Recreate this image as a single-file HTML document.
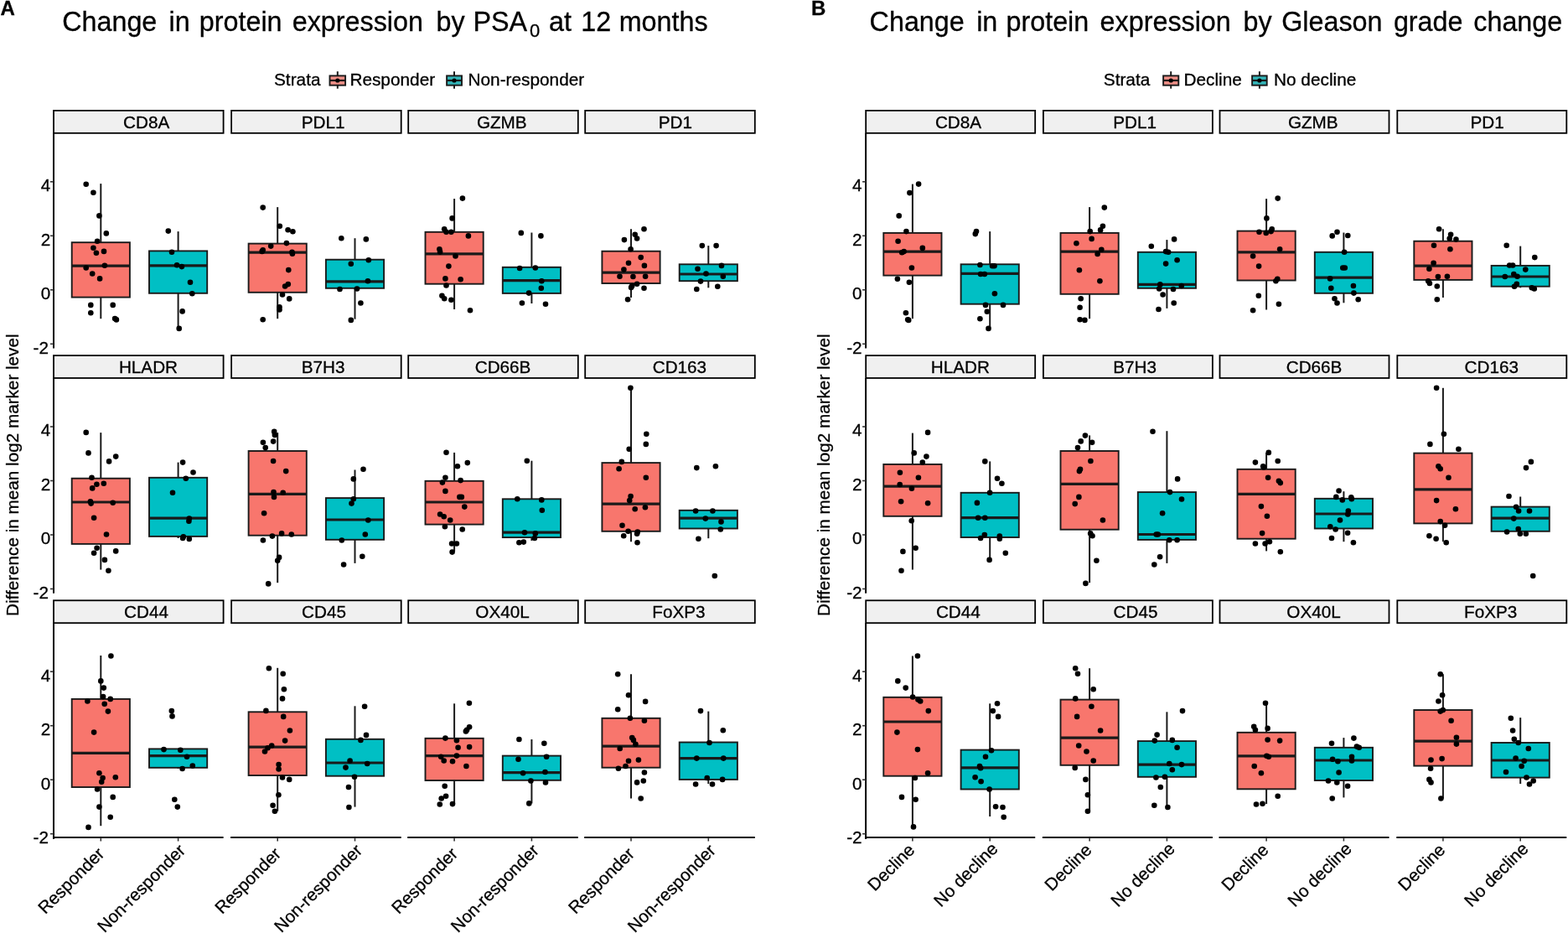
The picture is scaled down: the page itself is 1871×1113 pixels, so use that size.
<!DOCTYPE html><html><head><meta charset="utf-8"><title>Protein expression</title><style>html,body{margin:0;padding:0;background:#fff;overflow:hidden}svg{display:block}</style></head><body><svg width="1871" height="1113" viewBox="0 0 1871 1113">
<style>text{font-family:'Liberation Sans', Arial, Helvetica, sans-serif;fill:#000;stroke:#000;stroke-width:0.3px}.w{stroke:#1a1a1a;stroke-width:2}.b{stroke:#1a1a1a;stroke-width:1.9}.m{stroke:#1a1a1a;stroke-width:3.2}.ax{stroke:#000;stroke-width:2}.tk{stroke:#333;stroke-width:1.6}.st{fill:#F0F0F0;stroke:#000;stroke-width:1.8}.sl,.yt,.xt{font-size:20.7px}</style>
<rect width="1871" height="1113" fill="#fff"/>
<rect x="64.0" y="131.9" width="202.6" height="26.9" class="st"/>
<text x="147.0" y="152.7" class="sl">CD8A</text>
<line x1="120.3" y1="219.1" x2="120.3" y2="289.2" class="w"/>
<line x1="120.3" y1="354.5" x2="120.3" y2="380.2" class="w"/>
<rect x="85.7" y="289.2" width="69.2" height="65.4" fill="#F8766D" class="b"/>
<line x1="85.7" y1="317.2" x2="154.9" y2="317.2" class="m"/>
<line x1="212.6" y1="276.1" x2="212.6" y2="299.4" class="w"/>
<line x1="212.6" y1="349.9" x2="212.6" y2="392.4" class="w"/>
<rect x="178.0" y="299.4" width="69.2" height="50.4" fill="#00BFC4" class="b"/>
<line x1="178.0" y1="316.9" x2="247.2" y2="316.9" class="m"/>
<g fill="#000">
<circle cx="102.7" cy="219.8" r="3.3"/>
<circle cx="111.4" cy="229.8" r="3.3"/>
<circle cx="118.4" cy="257.4" r="3.3"/>
<circle cx="126.8" cy="278.4" r="3.3"/>
<circle cx="116.1" cy="287.7" r="3.3"/>
<circle cx="111.4" cy="295.7" r="3.3"/>
<circle cx="114.9" cy="301.8" r="3.3"/>
<circle cx="124.0" cy="299.9" r="3.3"/>
<circle cx="102.7" cy="319.5" r="3.3"/>
<circle cx="124.9" cy="316.7" r="3.3"/>
<circle cx="110.2" cy="326.5" r="3.3"/>
<circle cx="119.1" cy="332.4" r="3.3"/>
<circle cx="108.3" cy="363.9" r="3.3"/>
<circle cx="134.7" cy="363.9" r="3.3"/>
<circle cx="108.3" cy="373.2" r="3.3"/>
<circle cx="137.1" cy="380.0" r="3.3"/>
<circle cx="138.9" cy="381.4" r="3.3"/>
<circle cx="200.8" cy="275.6" r="3.3"/>
<circle cx="205.0" cy="300.8" r="3.3"/>
<circle cx="211.1" cy="316.2" r="3.3"/>
<circle cx="216.9" cy="318.1" r="3.3"/>
<circle cx="227.0" cy="336.8" r="3.3"/>
<circle cx="229.3" cy="350.3" r="3.3"/>
<circle cx="217.6" cy="371.4" r="3.3"/>
<circle cx="213.7" cy="391.9" r="3.3"/>
</g>
<rect x="276.1" y="131.9" width="202.6" height="26.9" class="st"/>
<text x="359.7" y="152.7" class="sl">PDL1</text>
<line x1="331.2" y1="247.1" x2="331.2" y2="290.6" class="w"/>
<line x1="331.2" y1="348.7" x2="331.2" y2="380.2" class="w"/>
<rect x="296.6" y="290.6" width="69.2" height="58.2" fill="#F8766D" class="b"/>
<line x1="296.6" y1="301.1" x2="365.8" y2="301.1" class="m"/>
<line x1="423.5" y1="284.2" x2="423.5" y2="309.7" class="w"/>
<line x1="423.5" y1="343.8" x2="423.5" y2="380.7" class="w"/>
<rect x="388.9" y="309.7" width="69.2" height="34.1" fill="#00BFC4" class="b"/>
<line x1="388.9" y1="335.9" x2="458.1" y2="335.9" class="m"/>
<g fill="#000">
<circle cx="313.7" cy="247.6" r="3.3"/>
<circle cx="333.8" cy="269.8" r="3.3"/>
<circle cx="343.6" cy="274.2" r="3.3"/>
<circle cx="349.4" cy="276.3" r="3.3"/>
<circle cx="341.9" cy="290.1" r="3.3"/>
<circle cx="323.2" cy="293.6" r="3.3"/>
<circle cx="313.7" cy="298.3" r="3.3"/>
<circle cx="312.7" cy="299.9" r="3.3"/>
<circle cx="348.5" cy="300.8" r="3.3"/>
<circle cx="348.9" cy="302.7" r="3.3"/>
<circle cx="344.3" cy="322.1" r="3.3"/>
<circle cx="340.1" cy="341.5" r="3.3"/>
<circle cx="343.8" cy="339.1" r="3.3"/>
<circle cx="337.0" cy="351.5" r="3.3"/>
<circle cx="345.2" cy="356.4" r="3.3"/>
<circle cx="333.5" cy="366.2" r="3.3"/>
<circle cx="333.5" cy="369.5" r="3.3"/>
<circle cx="313.7" cy="381.2" r="3.3"/>
<circle cx="407.3" cy="284.2" r="3.3"/>
<circle cx="436.8" cy="285.4" r="3.3"/>
<circle cx="439.8" cy="310.2" r="3.3"/>
<circle cx="418.8" cy="314.8" r="3.3"/>
<circle cx="438.9" cy="335.2" r="3.3"/>
<circle cx="405.5" cy="345.0" r="3.3"/>
<circle cx="426.0" cy="344.5" r="3.3"/>
<circle cx="430.4" cy="361.5" r="3.3"/>
<circle cx="418.8" cy="381.9" r="3.3"/>
</g>
<rect x="487.2" y="131.9" width="202.6" height="26.9" class="st"/>
<text x="568.9" y="152.7" class="sl">GZMB</text>
<line x1="542.1" y1="237.1" x2="542.1" y2="276.8" class="w"/>
<line x1="542.1" y1="338.7" x2="542.1" y2="369.0" class="w"/>
<rect x="507.5" y="276.8" width="69.2" height="61.9" fill="#F8766D" class="b"/>
<line x1="507.5" y1="302.9" x2="576.7" y2="302.9" class="m"/>
<line x1="634.4" y1="277.5" x2="634.4" y2="318.8" class="w"/>
<line x1="634.4" y1="349.9" x2="634.4" y2="362.0" class="w"/>
<rect x="599.8" y="318.8" width="69.2" height="31.1" fill="#00BFC4" class="b"/>
<line x1="599.8" y1="334.7" x2="669.0" y2="334.7" class="m"/>
<g fill="#000">
<circle cx="551.9" cy="236.6" r="3.3"/>
<circle cx="539.6" cy="260.4" r="3.3"/>
<circle cx="530.2" cy="273.3" r="3.3"/>
<circle cx="532.5" cy="276.8" r="3.3"/>
<circle cx="538.4" cy="276.8" r="3.3"/>
<circle cx="558.9" cy="281.4" r="3.3"/>
<circle cx="524.4" cy="297.3" r="3.3"/>
<circle cx="525.1" cy="300.6" r="3.3"/>
<circle cx="543.5" cy="305.5" r="3.3"/>
<circle cx="535.4" cy="317.6" r="3.3"/>
<circle cx="531.4" cy="332.4" r="3.3"/>
<circle cx="549.6" cy="333.3" r="3.3"/>
<circle cx="532.5" cy="340.5" r="3.3"/>
<circle cx="527.4" cy="352.7" r="3.3"/>
<circle cx="530.2" cy="356.2" r="3.3"/>
<circle cx="538.4" cy="357.8" r="3.3"/>
<circle cx="561.0" cy="370.2" r="3.3"/>
<circle cx="621.8" cy="277.9" r="3.3"/>
<circle cx="645.4" cy="281.4" r="3.3"/>
<circle cx="620.1" cy="320.0" r="3.3"/>
<circle cx="638.8" cy="319.5" r="3.3"/>
<circle cx="646.3" cy="335.2" r="3.3"/>
<circle cx="645.8" cy="343.8" r="3.3"/>
<circle cx="631.1" cy="349.6" r="3.3"/>
<circle cx="622.9" cy="361.5" r="3.3"/>
<circle cx="651.0" cy="362.7" r="3.3"/>
</g>
<rect x="698.2" y="131.9" width="202.6" height="26.9" class="st"/>
<text x="785.7" y="152.7" class="sl">PD1</text>
<line x1="753.0" y1="273.3" x2="753.0" y2="299.7" class="w"/>
<line x1="753.0" y1="338.0" x2="753.0" y2="355.0" class="w"/>
<rect x="718.4" y="299.7" width="69.2" height="38.3" fill="#F8766D" class="b"/>
<line x1="718.4" y1="325.1" x2="787.6" y2="325.1" class="m"/>
<line x1="845.3" y1="293.1" x2="845.3" y2="315.3" class="w"/>
<line x1="845.3" y1="335.2" x2="845.3" y2="343.3" class="w"/>
<rect x="810.7" y="315.3" width="69.2" height="19.9" fill="#00BFC4" class="b"/>
<line x1="810.7" y1="327.0" x2="879.9" y2="327.0" class="m"/>
<g fill="#000">
<circle cx="768.5" cy="273.3" r="3.3"/>
<circle cx="757.7" cy="279.8" r="3.3"/>
<circle cx="760.1" cy="284.5" r="3.3"/>
<circle cx="744.9" cy="286.1" r="3.3"/>
<circle cx="752.6" cy="297.3" r="3.3"/>
<circle cx="764.7" cy="307.1" r="3.3"/>
<circle cx="750.0" cy="313.7" r="3.3"/>
<circle cx="768.9" cy="316.9" r="3.3"/>
<circle cx="744.4" cy="321.6" r="3.3"/>
<circle cx="739.5" cy="329.8" r="3.3"/>
<circle cx="755.4" cy="330.0" r="3.3"/>
<circle cx="770.1" cy="329.8" r="3.3"/>
<circle cx="760.1" cy="338.7" r="3.3"/>
<circle cx="754.2" cy="341.0" r="3.3"/>
<circle cx="753.1" cy="342.9" r="3.3"/>
<circle cx="768.5" cy="343.8" r="3.3"/>
<circle cx="749.1" cy="357.3" r="3.3"/>
<circle cx="837.8" cy="293.1" r="3.3"/>
<circle cx="854.6" cy="293.1" r="3.3"/>
<circle cx="861.0" cy="316.9" r="3.3"/>
<circle cx="832.5" cy="320.7" r="3.3"/>
<circle cx="842.5" cy="326.5" r="3.3"/>
<circle cx="862.8" cy="329.8" r="3.3"/>
<circle cx="836.0" cy="335.6" r="3.3"/>
<circle cx="856.3" cy="341.7" r="3.3"/>
<circle cx="831.3" cy="345.0" r="3.3"/>
</g>
<line x1="64.0" y1="158.8" x2="64.0" y2="415.6" class="ax"/>
<line x1="60.0" y1="216.8" x2="64.0" y2="216.8" class="tk"/>
<text x="60.3" y="228.1" text-anchor="end" class="yt">4</text>
<line x1="60.0" y1="281.3" x2="64.0" y2="281.3" class="tk"/>
<text x="60.3" y="292.6" text-anchor="end" class="yt">2</text>
<line x1="60.0" y1="345.8" x2="64.0" y2="345.8" class="tk"/>
<text x="60.3" y="357.1" text-anchor="end" class="yt">0</text>
<line x1="60.0" y1="410.3" x2="64.0" y2="410.3" class="tk"/>
<text x="58.0" y="421.6" text-anchor="end" class="yt">-2</text>
<rect x="64.0" y="424.1" width="202.6" height="26.9" class="st"/>
<text x="141.9" y="444.9" class="sl">HLADR</text>
<line x1="120.3" y1="516.1" x2="120.3" y2="570.7" class="w"/>
<line x1="120.3" y1="649.0" x2="120.3" y2="679.6" class="w"/>
<rect x="85.7" y="570.7" width="69.2" height="78.2" fill="#F8766D" class="b"/>
<line x1="85.7" y1="599.0" x2="154.9" y2="599.0" class="m"/>
<line x1="212.6" y1="551.6" x2="212.6" y2="569.8" class="w"/>
<line x1="212.6" y1="639.9" x2="212.6" y2="642.0" class="w"/>
<rect x="178.0" y="569.8" width="69.2" height="70.1" fill="#00BFC4" class="b"/>
<line x1="178.0" y1="618.2" x2="247.2" y2="618.2" class="m"/>
<g fill="#000">
<circle cx="102.7" cy="515.9" r="3.3"/>
<circle cx="105.5" cy="540.4" r="3.3"/>
<circle cx="138.2" cy="544.6" r="3.3"/>
<circle cx="130.1" cy="550.4" r="3.3"/>
<circle cx="109.5" cy="569.8" r="3.3"/>
<circle cx="115.4" cy="577.7" r="3.3"/>
<circle cx="123.8" cy="576.8" r="3.3"/>
<circle cx="110.2" cy="582.4" r="3.3"/>
<circle cx="107.9" cy="598.3" r="3.3"/>
<circle cx="108.6" cy="600.6" r="3.3"/>
<circle cx="134.7" cy="599.7" r="3.3"/>
<circle cx="112.1" cy="617.7" r="3.3"/>
<circle cx="127.0" cy="637.5" r="3.3"/>
<circle cx="115.6" cy="653.7" r="3.3"/>
<circle cx="112.1" cy="659.7" r="3.3"/>
<circle cx="138.2" cy="657.4" r="3.3"/>
<circle cx="124.9" cy="667.9" r="3.3"/>
<circle cx="129.4" cy="680.7" r="3.3"/>
<circle cx="218.1" cy="551.6" r="3.3"/>
<circle cx="230.5" cy="563.5" r="3.3"/>
<circle cx="221.8" cy="570.7" r="3.3"/>
<circle cx="206.0" cy="587.8" r="3.3"/>
<circle cx="225.8" cy="618.6" r="3.3"/>
<circle cx="225.4" cy="621.7" r="3.3"/>
<circle cx="218.8" cy="640.3" r="3.3"/>
<circle cx="218.1" cy="642.0" r="3.3"/>
<circle cx="225.8" cy="642.9" r="3.3"/>
</g>
<rect x="276.1" y="424.1" width="202.6" height="26.9" class="st"/>
<text x="359.7" y="444.9" class="sl">B7H3</text>
<line x1="331.2" y1="516.1" x2="331.2" y2="538.0" class="w"/>
<line x1="331.2" y1="638.7" x2="331.2" y2="695.2" class="w"/>
<rect x="296.6" y="538.0" width="69.2" height="100.7" fill="#F8766D" class="b"/>
<line x1="296.6" y1="589.4" x2="365.8" y2="589.4" class="m"/>
<line x1="423.5" y1="560.5" x2="423.5" y2="594.1" class="w"/>
<line x1="423.5" y1="643.8" x2="423.5" y2="671.9" class="w"/>
<rect x="388.9" y="594.1" width="69.2" height="49.7" fill="#00BFC4" class="b"/>
<line x1="388.9" y1="620.0" x2="458.1" y2="620.0" class="m"/>
<g fill="#000">
<circle cx="327.2" cy="514.9" r="3.3"/>
<circle cx="327.9" cy="518.9" r="3.3"/>
<circle cx="313.9" cy="527.8" r="3.3"/>
<circle cx="326.1" cy="526.6" r="3.3"/>
<circle cx="316.7" cy="534.1" r="3.3"/>
<circle cx="326.1" cy="550.0" r="3.3"/>
<circle cx="341.2" cy="562.1" r="3.3"/>
<circle cx="326.5" cy="587.1" r="3.3"/>
<circle cx="337.7" cy="587.8" r="3.3"/>
<circle cx="327.0" cy="592.9" r="3.3"/>
<circle cx="315.1" cy="612.3" r="3.3"/>
<circle cx="324.9" cy="639.6" r="3.3"/>
<circle cx="336.1" cy="636.4" r="3.3"/>
<circle cx="347.8" cy="637.5" r="3.3"/>
<circle cx="313.9" cy="644.5" r="3.3"/>
<circle cx="333.1" cy="664.9" r="3.3"/>
<circle cx="331.2" cy="668.8" r="3.3"/>
<circle cx="320.2" cy="696.4" r="3.3"/>
<circle cx="433.5" cy="559.8" r="3.3"/>
<circle cx="421.8" cy="571.4" r="3.3"/>
<circle cx="421.8" cy="595.3" r="3.3"/>
<circle cx="419.5" cy="600.6" r="3.3"/>
<circle cx="439.3" cy="620.5" r="3.3"/>
<circle cx="435.8" cy="637.5" r="3.3"/>
<circle cx="407.8" cy="644.5" r="3.3"/>
<circle cx="432.3" cy="663.7" r="3.3"/>
<circle cx="410.1" cy="673.5" r="3.3"/>
</g>
<rect x="487.2" y="424.1" width="202.6" height="26.9" class="st"/>
<text x="566.7" y="444.9" class="sl">CD66B</text>
<line x1="542.1" y1="539.9" x2="542.1" y2="573.8" class="w"/>
<line x1="542.1" y1="625.6" x2="542.1" y2="657.9" class="w"/>
<rect x="507.5" y="573.8" width="69.2" height="51.8" fill="#F8766D" class="b"/>
<line x1="507.5" y1="599.0" x2="576.7" y2="599.0" class="m"/>
<line x1="634.4" y1="549.7" x2="634.4" y2="595.3" class="w"/>
<line x1="634.4" y1="641.0" x2="634.4" y2="645.0" class="w"/>
<rect x="599.8" y="595.3" width="69.2" height="45.8" fill="#00BFC4" class="b"/>
<line x1="599.8" y1="635.2" x2="669.0" y2="635.2" class="m"/>
<g fill="#000">
<circle cx="532.5" cy="539.7" r="3.3"/>
<circle cx="545.9" cy="556.3" r="3.3"/>
<circle cx="557.8" cy="552.1" r="3.3"/>
<circle cx="531.4" cy="569.8" r="3.3"/>
<circle cx="527.9" cy="575.6" r="3.3"/>
<circle cx="549.6" cy="573.1" r="3.3"/>
<circle cx="531.4" cy="585.9" r="3.3"/>
<circle cx="548.4" cy="592.9" r="3.3"/>
<circle cx="550.8" cy="592.9" r="3.3"/>
<circle cx="554.3" cy="604.6" r="3.3"/>
<circle cx="525.1" cy="613.5" r="3.3"/>
<circle cx="529.7" cy="616.3" r="3.3"/>
<circle cx="537.2" cy="620.5" r="3.3"/>
<circle cx="530.9" cy="628.2" r="3.3"/>
<circle cx="551.7" cy="631.5" r="3.3"/>
<circle cx="539.1" cy="648.5" r="3.3"/>
<circle cx="544.9" cy="648.5" r="3.3"/>
<circle cx="539.6" cy="658.6" r="3.3"/>
<circle cx="628.8" cy="549.7" r="3.3"/>
<circle cx="617.3" cy="595.3" r="3.3"/>
<circle cx="646.3" cy="596.4" r="3.3"/>
<circle cx="646.8" cy="608.8" r="3.3"/>
<circle cx="626.0" cy="635.2" r="3.3"/>
<circle cx="638.8" cy="636.4" r="3.3"/>
<circle cx="637.9" cy="642.0" r="3.3"/>
<circle cx="619.4" cy="647.3" r="3.3"/>
<circle cx="624.8" cy="646.6" r="3.3"/>
</g>
<rect x="698.2" y="424.1" width="202.6" height="26.9" class="st"/>
<text x="778.7" y="444.9" class="sl">CD163</text>
<line x1="753.0" y1="462.8" x2="753.0" y2="552.1" class="w"/>
<line x1="753.0" y1="633.8" x2="753.0" y2="646.2" class="w"/>
<rect x="718.4" y="552.1" width="69.2" height="81.7" fill="#F8766D" class="b"/>
<line x1="718.4" y1="601.1" x2="787.6" y2="601.1" class="m"/>
<line x1="845.3" y1="608.8" x2="845.3" y2="608.8" class="w"/>
<line x1="845.3" y1="630.5" x2="845.3" y2="642.2" class="w"/>
<rect x="810.7" y="608.8" width="69.2" height="21.7" fill="#00BFC4" class="b"/>
<line x1="810.7" y1="618.2" x2="879.9" y2="618.2" class="m"/>
<g fill="#000">
<circle cx="752.4" cy="462.8" r="3.3"/>
<circle cx="771.3" cy="517.7" r="3.3"/>
<circle cx="770.8" cy="529.9" r="3.3"/>
<circle cx="750.7" cy="535.7" r="3.3"/>
<circle cx="741.8" cy="550.9" r="3.3"/>
<circle cx="738.6" cy="559.3" r="3.3"/>
<circle cx="770.8" cy="569.8" r="3.3"/>
<circle cx="752.6" cy="592.0" r="3.3"/>
<circle cx="751.2" cy="597.1" r="3.3"/>
<circle cx="757.7" cy="607.2" r="3.3"/>
<circle cx="769.9" cy="605.3" r="3.3"/>
<circle cx="742.5" cy="626.8" r="3.3"/>
<circle cx="749.6" cy="633.8" r="3.3"/>
<circle cx="760.8" cy="634.5" r="3.3"/>
<circle cx="760.1" cy="636.8" r="3.3"/>
<circle cx="744.2" cy="639.2" r="3.3"/>
<circle cx="760.5" cy="647.3" r="3.3"/>
<circle cx="831.3" cy="558.1" r="3.3"/>
<circle cx="853.9" cy="556.3" r="3.3"/>
<circle cx="830.1" cy="609.5" r="3.3"/>
<circle cx="850.4" cy="609.5" r="3.3"/>
<circle cx="841.8" cy="618.6" r="3.3"/>
<circle cx="860.5" cy="622.4" r="3.3"/>
<circle cx="859.8" cy="631.5" r="3.3"/>
<circle cx="833.4" cy="642.7" r="3.3"/>
<circle cx="852.8" cy="687.0" r="3.3"/>
</g>
<line x1="64.0" y1="451.0" x2="64.0" y2="707.8" class="ax"/>
<line x1="60.0" y1="509.0" x2="64.0" y2="509.0" class="tk"/>
<text x="60.3" y="520.3" text-anchor="end" class="yt">4</text>
<line x1="60.0" y1="573.5" x2="64.0" y2="573.5" class="tk"/>
<text x="60.3" y="584.8" text-anchor="end" class="yt">2</text>
<line x1="60.0" y1="638.0" x2="64.0" y2="638.0" class="tk"/>
<text x="60.3" y="649.3" text-anchor="end" class="yt">0</text>
<line x1="60.0" y1="702.5" x2="64.0" y2="702.5" class="tk"/>
<text x="58.0" y="713.8" text-anchor="end" class="yt">-2</text>
<rect x="64.0" y="716.3" width="202.6" height="26.9" class="st"/>
<text x="148.0" y="737.1" class="sl">CD44</text>
<line x1="120.3" y1="782.0" x2="120.3" y2="833.9" class="w"/>
<line x1="120.3" y1="939.0" x2="120.3" y2="985.2" class="w"/>
<rect x="85.7" y="833.9" width="69.2" height="105.1" fill="#F8766D" class="b"/>
<line x1="85.7" y1="898.3" x2="154.9" y2="898.3" class="m"/>
<line x1="212.6" y1="893.4" x2="212.6" y2="893.4" class="w"/>
<line x1="212.6" y1="915.9" x2="212.6" y2="916.8" class="w"/>
<rect x="178.0" y="893.4" width="69.2" height="22.4" fill="#00BFC4" class="b"/>
<line x1="178.0" y1="901.6" x2="247.2" y2="901.6" class="m"/>
<g fill="#000">
<circle cx="132.4" cy="782.5" r="3.3"/>
<circle cx="120.3" cy="812.4" r="3.3"/>
<circle cx="123.8" cy="820.6" r="3.3"/>
<circle cx="123.1" cy="831.1" r="3.3"/>
<circle cx="131.7" cy="833.9" r="3.3"/>
<circle cx="104.4" cy="836.5" r="3.3"/>
<circle cx="124.7" cy="839.7" r="3.3"/>
<circle cx="128.9" cy="848.6" r="3.3"/>
<circle cx="112.1" cy="873.6" r="3.3"/>
<circle cx="118.4" cy="922.2" r="3.3"/>
<circle cx="122.6" cy="928.0" r="3.3"/>
<circle cx="137.8" cy="927.3" r="3.3"/>
<circle cx="121.2" cy="932.7" r="3.3"/>
<circle cx="116.1" cy="941.5" r="3.3"/>
<circle cx="134.7" cy="950.9" r="3.3"/>
<circle cx="118.4" cy="962.6" r="3.3"/>
<circle cx="131.7" cy="974.7" r="3.3"/>
<circle cx="105.5" cy="986.9" r="3.3"/>
<circle cx="204.8" cy="848.1" r="3.3"/>
<circle cx="205.5" cy="854.4" r="3.3"/>
<circle cx="195.5" cy="894.1" r="3.3"/>
<circle cx="215.3" cy="894.8" r="3.3"/>
<circle cx="223.0" cy="902.8" r="3.3"/>
<circle cx="229.8" cy="913.5" r="3.3"/>
<circle cx="217.6" cy="917.0" r="3.3"/>
<circle cx="208.3" cy="953.7" r="3.3"/>
<circle cx="211.8" cy="962.6" r="3.3"/>
</g>
<rect x="276.1" y="716.3" width="202.6" height="26.9" class="st"/>
<text x="360.1" y="737.1" class="sl">CD45</text>
<line x1="331.2" y1="796.8" x2="331.2" y2="849.3" class="w"/>
<line x1="331.2" y1="925.0" x2="331.2" y2="967.7" class="w"/>
<rect x="296.6" y="849.3" width="69.2" height="75.7" fill="#F8766D" class="b"/>
<line x1="296.6" y1="891.1" x2="365.8" y2="891.1" class="m"/>
<line x1="423.5" y1="842.3" x2="423.5" y2="881.8" class="w"/>
<line x1="423.5" y1="925.7" x2="423.5" y2="962.6" class="w"/>
<rect x="388.9" y="881.8" width="69.2" height="43.9" fill="#00BFC4" class="b"/>
<line x1="388.9" y1="910.0" x2="458.1" y2="910.0" class="m"/>
<g fill="#000">
<circle cx="320.9" cy="797.2" r="3.3"/>
<circle cx="337.7" cy="803.8" r="3.3"/>
<circle cx="338.9" cy="822.2" r="3.3"/>
<circle cx="337.0" cy="833.4" r="3.3"/>
<circle cx="317.4" cy="847.9" r="3.3"/>
<circle cx="338.2" cy="854.9" r="3.3"/>
<circle cx="345.9" cy="871.5" r="3.3"/>
<circle cx="340.1" cy="883.6" r="3.3"/>
<circle cx="324.2" cy="889.5" r="3.3"/>
<circle cx="319.5" cy="892.3" r="3.3"/>
<circle cx="316.0" cy="896.5" r="3.3"/>
<circle cx="332.6" cy="912.1" r="3.3"/>
<circle cx="332.6" cy="917.5" r="3.3"/>
<circle cx="337.0" cy="927.5" r="3.3"/>
<circle cx="345.2" cy="929.9" r="3.3"/>
<circle cx="332.4" cy="948.3" r="3.3"/>
<circle cx="325.6" cy="960.7" r="3.3"/>
<circle cx="327.9" cy="967.7" r="3.3"/>
<circle cx="435.1" cy="842.8" r="3.3"/>
<circle cx="437.0" cy="876.9" r="3.3"/>
<circle cx="430.4" cy="882.9" r="3.3"/>
<circle cx="417.6" cy="907.5" r="3.3"/>
<circle cx="412.5" cy="915.6" r="3.3"/>
<circle cx="438.2" cy="911.0" r="3.3"/>
<circle cx="423.0" cy="926.8" r="3.3"/>
<circle cx="416.0" cy="939.0" r="3.3"/>
<circle cx="416.4" cy="963.0" r="3.3"/>
</g>
<rect x="487.2" y="716.3" width="202.6" height="26.9" class="st"/>
<text x="567.3" y="737.1" class="sl">OX40L</text>
<line x1="542.1" y1="839.3" x2="542.1" y2="880.8" class="w"/>
<line x1="542.1" y1="931.0" x2="542.1" y2="959.1" class="w"/>
<rect x="507.5" y="880.8" width="69.2" height="50.2" fill="#F8766D" class="b"/>
<line x1="507.5" y1="901.6" x2="576.7" y2="901.6" class="m"/>
<line x1="634.4" y1="882.0" x2="634.4" y2="901.6" class="w"/>
<line x1="634.4" y1="930.8" x2="634.4" y2="958.4" class="w"/>
<rect x="599.8" y="901.6" width="69.2" height="29.2" fill="#00BFC4" class="b"/>
<line x1="599.8" y1="921.7" x2="669.0" y2="921.7" class="m"/>
<g fill="#000">
<circle cx="559.9" cy="838.8" r="3.3"/>
<circle cx="560.1" cy="867.3" r="3.3"/>
<circle cx="557.1" cy="870.8" r="3.3"/>
<circle cx="555.9" cy="872.4" r="3.3"/>
<circle cx="531.4" cy="880.6" r="3.3"/>
<circle cx="544.9" cy="883.2" r="3.3"/>
<circle cx="546.6" cy="891.8" r="3.3"/>
<circle cx="560.1" cy="891.1" r="3.3"/>
<circle cx="526.2" cy="902.8" r="3.3"/>
<circle cx="529.7" cy="907.5" r="3.3"/>
<circle cx="544.9" cy="901.6" r="3.3"/>
<circle cx="540.0" cy="908.2" r="3.3"/>
<circle cx="556.4" cy="914.0" r="3.3"/>
<circle cx="530.7" cy="937.8" r="3.3"/>
<circle cx="532.1" cy="949.7" r="3.3"/>
<circle cx="526.7" cy="952.5" r="3.3"/>
<circle cx="524.8" cy="959.5" r="3.3"/>
<circle cx="540.0" cy="959.1" r="3.3"/>
<circle cx="619.4" cy="882.0" r="3.3"/>
<circle cx="649.3" cy="886.7" r="3.3"/>
<circle cx="618.5" cy="905.8" r="3.3"/>
<circle cx="652.1" cy="902.8" r="3.3"/>
<circle cx="624.1" cy="922.2" r="3.3"/>
<circle cx="650.5" cy="921.0" r="3.3"/>
<circle cx="633.4" cy="931.5" r="3.3"/>
<circle cx="651.0" cy="933.4" r="3.3"/>
<circle cx="631.3" cy="958.4" r="3.3"/>
</g>
<rect x="698.2" y="716.3" width="202.6" height="26.9" class="st"/>
<text x="778.3" y="737.1" class="sl">FoXP3</text>
<line x1="753.0" y1="804.2" x2="753.0" y2="856.8" class="w"/>
<line x1="753.0" y1="915.6" x2="753.0" y2="952.5" class="w"/>
<rect x="718.4" y="856.8" width="69.2" height="58.9" fill="#F8766D" class="b"/>
<line x1="718.4" y1="890.2" x2="787.6" y2="890.2" class="m"/>
<line x1="845.3" y1="848.6" x2="845.3" y2="885.5" class="w"/>
<line x1="845.3" y1="929.9" x2="845.3" y2="935.0" class="w"/>
<rect x="810.7" y="885.5" width="69.2" height="44.4" fill="#00BFC4" class="b"/>
<line x1="810.7" y1="904.6" x2="879.9" y2="904.6" class="m"/>
<g fill="#000">
<circle cx="737.2" cy="804.2" r="3.3"/>
<circle cx="750.0" cy="829.2" r="3.3"/>
<circle cx="770.1" cy="836.9" r="3.3"/>
<circle cx="737.2" cy="846.3" r="3.3"/>
<circle cx="751.9" cy="856.8" r="3.3"/>
<circle cx="768.9" cy="859.8" r="3.3"/>
<circle cx="754.2" cy="880.1" r="3.3"/>
<circle cx="755.9" cy="882.9" r="3.3"/>
<circle cx="758.4" cy="887.8" r="3.3"/>
<circle cx="739.7" cy="893.0" r="3.3"/>
<circle cx="750.0" cy="907.7" r="3.3"/>
<circle cx="761.9" cy="906.5" r="3.3"/>
<circle cx="746.5" cy="914.0" r="3.3"/>
<circle cx="737.9" cy="916.8" r="3.3"/>
<circle cx="768.9" cy="921.5" r="3.3"/>
<circle cx="760.1" cy="933.4" r="3.3"/>
<circle cx="767.8" cy="931.5" r="3.3"/>
<circle cx="764.7" cy="952.5" r="3.3"/>
<circle cx="836.0" cy="848.1" r="3.3"/>
<circle cx="862.8" cy="871.3" r="3.3"/>
<circle cx="846.5" cy="886.0" r="3.3"/>
<circle cx="831.3" cy="904.6" r="3.3"/>
<circle cx="863.3" cy="904.6" r="3.3"/>
<circle cx="843.7" cy="928.0" r="3.3"/>
<circle cx="862.1" cy="929.9" r="3.3"/>
<circle cx="830.1" cy="935.5" r="3.3"/>
<circle cx="850.0" cy="935.5" r="3.3"/>
</g>
<line x1="64.0" y1="743.2" x2="64.0" y2="1001.0" class="ax"/>
<line x1="60.0" y1="801.2" x2="64.0" y2="801.2" class="tk"/>
<text x="60.3" y="812.5" text-anchor="end" class="yt">4</text>
<line x1="60.0" y1="865.7" x2="64.0" y2="865.7" class="tk"/>
<text x="60.3" y="877.0" text-anchor="end" class="yt">2</text>
<line x1="60.0" y1="930.2" x2="64.0" y2="930.2" class="tk"/>
<text x="60.3" y="941.5" text-anchor="end" class="yt">0</text>
<line x1="60.0" y1="994.7" x2="64.0" y2="994.7" class="tk"/>
<text x="58.0" y="1006.0" text-anchor="end" class="yt">-2</text>
<line x1="63.0" y1="999" x2="266.6" y2="999" class="ax"/>
<line x1="120.3" y1="999" x2="120.3" y2="1003.5" class="tk"/>
<text transform="translate(115.3,1009.5) rotate(-45)" text-anchor="end" class="xt" dy="0.7em">Responder</text>
<line x1="212.6" y1="999" x2="212.6" y2="1003.5" class="tk"/>
<text transform="translate(212.1,1005.6) rotate(-45)" text-anchor="end" class="xt" dy="0.7em">Non-responder</text>
<line x1="275.1" y1="999" x2="478.7" y2="999" class="ax"/>
<line x1="331.2" y1="999" x2="331.2" y2="1003.5" class="tk"/>
<text transform="translate(326.2,1009.5) rotate(-45)" text-anchor="end" class="xt" dy="0.7em">Responder</text>
<line x1="423.5" y1="999" x2="423.5" y2="1003.5" class="tk"/>
<text transform="translate(423.0,1005.6) rotate(-45)" text-anchor="end" class="xt" dy="0.7em">Non-responder</text>
<line x1="486.2" y1="999" x2="689.8" y2="999" class="ax"/>
<line x1="542.1" y1="999" x2="542.1" y2="1003.5" class="tk"/>
<text transform="translate(537.1,1009.5) rotate(-45)" text-anchor="end" class="xt" dy="0.7em">Responder</text>
<line x1="634.4" y1="999" x2="634.4" y2="1003.5" class="tk"/>
<text transform="translate(633.9,1005.6) rotate(-45)" text-anchor="end" class="xt" dy="0.7em">Non-responder</text>
<line x1="697.2" y1="999" x2="900.8" y2="999" class="ax"/>
<line x1="753.0" y1="999" x2="753.0" y2="1003.5" class="tk"/>
<text transform="translate(748.0,1009.5) rotate(-45)" text-anchor="end" class="xt" dy="0.7em">Responder</text>
<line x1="845.3" y1="999" x2="845.3" y2="1003.5" class="tk"/>
<text transform="translate(844.8,1005.6) rotate(-45)" text-anchor="end" class="xt" dy="0.7em">Non-responder</text>
<rect x="1033.2" y="131.9" width="202.0" height="26.9" class="st"/>
<text x="1115.9" y="152.7" class="sl">CD8A</text>
<line x1="1088.9" y1="219.6" x2="1088.9" y2="277.9" class="w"/>
<line x1="1088.9" y1="328.6" x2="1088.9" y2="380.2" class="w"/>
<rect x="1054.3" y="277.9" width="69.2" height="50.7" fill="#F8766D" class="b"/>
<line x1="1054.3" y1="300.1" x2="1123.5" y2="300.1" class="m"/>
<line x1="1181.2" y1="276.1" x2="1181.2" y2="315.3" class="w"/>
<line x1="1181.2" y1="362.7" x2="1181.2" y2="391.9" class="w"/>
<rect x="1146.6" y="315.3" width="69.2" height="47.4" fill="#00BFC4" class="b"/>
<line x1="1146.6" y1="326.3" x2="1215.8" y2="326.3" class="m"/>
<g fill="#000">
<circle cx="1096.1" cy="219.6" r="3.3"/>
<circle cx="1085.4" cy="230.1" r="3.3"/>
<circle cx="1072.7" cy="257.4" r="3.3"/>
<circle cx="1081.4" cy="276.1" r="3.3"/>
<circle cx="1071.6" cy="287.7" r="3.3"/>
<circle cx="1100.8" cy="295.9" r="3.3"/>
<circle cx="1076.2" cy="301.3" r="3.3"/>
<circle cx="1078.6" cy="300.1" r="3.3"/>
<circle cx="1087.9" cy="319.5" r="3.3"/>
<circle cx="1070.9" cy="332.8" r="3.3"/>
<circle cx="1084.9" cy="336.8" r="3.3"/>
<circle cx="1080.9" cy="373.2" r="3.3"/>
<circle cx="1083.2" cy="381.2" r="3.3"/>
<circle cx="1084.2" cy="381.9" r="3.3"/>
<circle cx="1165.0" cy="276.1" r="3.3"/>
<circle cx="1163.8" cy="279.1" r="3.3"/>
<circle cx="1169.4" cy="316.0" r="3.3"/>
<circle cx="1184.1" cy="317.2" r="3.3"/>
<circle cx="1186.5" cy="317.2" r="3.3"/>
<circle cx="1170.1" cy="327.0" r="3.3"/>
<circle cx="1174.8" cy="327.0" r="3.3"/>
<circle cx="1186.9" cy="350.3" r="3.3"/>
<circle cx="1176.0" cy="363.9" r="3.3"/>
<circle cx="1197.0" cy="363.9" r="3.3"/>
<circle cx="1177.8" cy="371.8" r="3.3"/>
<circle cx="1169.4" cy="380.2" r="3.3"/>
<circle cx="1179.5" cy="391.9" r="3.3"/>
</g>
<rect x="1244.9" y="131.9" width="202.0" height="26.9" class="st"/>
<text x="1328.2" y="152.7" class="sl">PDL1</text>
<line x1="1300.1" y1="247.1" x2="1300.1" y2="277.9" class="w"/>
<line x1="1300.1" y1="350.8" x2="1300.1" y2="380.2" class="w"/>
<rect x="1265.5" y="277.9" width="69.2" height="72.9" fill="#F8766D" class="b"/>
<line x1="1265.5" y1="300.1" x2="1334.7" y2="300.1" class="m"/>
<line x1="1392.4" y1="286.1" x2="1392.4" y2="300.8" class="w"/>
<line x1="1392.4" y1="343.8" x2="1392.4" y2="367.9" class="w"/>
<rect x="1357.8" y="300.8" width="69.2" height="43.0" fill="#00BFC4" class="b"/>
<line x1="1357.8" y1="339.4" x2="1427.0" y2="339.4" class="m"/>
<g fill="#000">
<circle cx="1317.8" cy="247.6" r="3.3"/>
<circle cx="1315.9" cy="269.8" r="3.3"/>
<circle cx="1313.1" cy="274.4" r="3.3"/>
<circle cx="1300.7" cy="276.1" r="3.3"/>
<circle cx="1302.6" cy="284.9" r="3.3"/>
<circle cx="1284.4" cy="290.3" r="3.3"/>
<circle cx="1314.3" cy="297.8" r="3.3"/>
<circle cx="1309.6" cy="302.9" r="3.3"/>
<circle cx="1287.9" cy="322.3" r="3.3"/>
<circle cx="1312.4" cy="335.2" r="3.3"/>
<circle cx="1289.7" cy="356.2" r="3.3"/>
<circle cx="1288.6" cy="366.7" r="3.3"/>
<circle cx="1288.6" cy="381.2" r="3.3"/>
<circle cx="1294.4" cy="381.9" r="3.3"/>
<circle cx="1401.1" cy="285.4" r="3.3"/>
<circle cx="1373.8" cy="293.8" r="3.3"/>
<circle cx="1391.1" cy="300.1" r="3.3"/>
<circle cx="1394.1" cy="300.8" r="3.3"/>
<circle cx="1404.6" cy="310.2" r="3.3"/>
<circle cx="1391.1" cy="314.6" r="3.3"/>
<circle cx="1384.3" cy="339.4" r="3.3"/>
<circle cx="1409.8" cy="341.0" r="3.3"/>
<circle cx="1383.2" cy="344.5" r="3.3"/>
<circle cx="1400.0" cy="345.0" r="3.3"/>
<circle cx="1387.6" cy="351.5" r="3.3"/>
<circle cx="1400.7" cy="361.5" r="3.3"/>
<circle cx="1382.5" cy="369.0" r="3.3"/>
</g>
<rect x="1455.5" y="131.9" width="202.0" height="26.9" class="st"/>
<text x="1536.9" y="152.7" class="sl">GZMB</text>
<line x1="1511.1" y1="237.1" x2="1511.1" y2="275.6" class="w"/>
<line x1="1511.1" y1="334.5" x2="1511.1" y2="369.5" class="w"/>
<rect x="1476.5" y="275.6" width="69.2" height="58.9" fill="#F8766D" class="b"/>
<line x1="1476.5" y1="300.8" x2="1545.7" y2="300.8" class="m"/>
<line x1="1603.4" y1="277.5" x2="1603.4" y2="300.8" class="w"/>
<line x1="1603.4" y1="349.9" x2="1603.4" y2="361.3" class="w"/>
<rect x="1568.8" y="300.8" width="69.2" height="49.0" fill="#00BFC4" class="b"/>
<line x1="1568.8" y1="331.2" x2="1638.0" y2="331.2" class="m"/>
<g fill="#000">
<circle cx="1524.7" cy="236.6" r="3.3"/>
<circle cx="1511.4" cy="260.4" r="3.3"/>
<circle cx="1502.5" cy="276.8" r="3.3"/>
<circle cx="1510.7" cy="277.9" r="3.3"/>
<circle cx="1516.6" cy="276.1" r="3.3"/>
<circle cx="1517.7" cy="273.3" r="3.3"/>
<circle cx="1527.1" cy="297.3" r="3.3"/>
<circle cx="1495.1" cy="305.5" r="3.3"/>
<circle cx="1502.1" cy="317.6" r="3.3"/>
<circle cx="1522.4" cy="335.2" r="3.3"/>
<circle cx="1524.3" cy="332.8" r="3.3"/>
<circle cx="1501.8" cy="352.7" r="3.3"/>
<circle cx="1525.9" cy="362.7" r="3.3"/>
<circle cx="1495.1" cy="370.2" r="3.3"/>
<circle cx="1595.5" cy="276.8" r="3.3"/>
<circle cx="1589.7" cy="281.4" r="3.3"/>
<circle cx="1608.3" cy="281.0" r="3.3"/>
<circle cx="1604.1" cy="300.8" r="3.3"/>
<circle cx="1602.3" cy="319.5" r="3.3"/>
<circle cx="1604.8" cy="319.5" r="3.3"/>
<circle cx="1587.1" cy="332.4" r="3.3"/>
<circle cx="1588.3" cy="343.8" r="3.3"/>
<circle cx="1614.9" cy="341.0" r="3.3"/>
<circle cx="1615.4" cy="349.6" r="3.3"/>
<circle cx="1592.5" cy="356.2" r="3.3"/>
<circle cx="1595.5" cy="361.5" r="3.3"/>
<circle cx="1620.7" cy="357.3" r="3.3"/>
</g>
<rect x="1667.3" y="131.9" width="202.0" height="26.9" class="st"/>
<text x="1754.5" y="152.7" class="sl">PD1</text>
<line x1="1721.9" y1="273.3" x2="1721.9" y2="287.7" class="w"/>
<line x1="1721.9" y1="334.0" x2="1721.9" y2="355.0" class="w"/>
<rect x="1687.3" y="287.7" width="69.2" height="46.2" fill="#F8766D" class="b"/>
<line x1="1687.3" y1="317.2" x2="1756.5" y2="317.2" class="m"/>
<line x1="1814.2" y1="293.6" x2="1814.2" y2="316.9" class="w"/>
<line x1="1814.2" y1="341.7" x2="1814.2" y2="343.3" class="w"/>
<rect x="1779.6" y="316.9" width="69.2" height="24.8" fill="#00BFC4" class="b"/>
<line x1="1779.6" y1="330.0" x2="1848.8" y2="330.0" class="m"/>
<g fill="#000">
<circle cx="1717.1" cy="273.3" r="3.3"/>
<circle cx="1731.1" cy="279.8" r="3.3"/>
<circle cx="1729.7" cy="284.5" r="3.3"/>
<circle cx="1737.4" cy="285.6" r="3.3"/>
<circle cx="1711.0" cy="292.7" r="3.3"/>
<circle cx="1730.4" cy="297.3" r="3.3"/>
<circle cx="1710.6" cy="313.7" r="3.3"/>
<circle cx="1705.4" cy="320.7" r="3.3"/>
<circle cx="1715.9" cy="330.0" r="3.3"/>
<circle cx="1726.9" cy="329.8" r="3.3"/>
<circle cx="1704.2" cy="335.2" r="3.3"/>
<circle cx="1705.9" cy="338.0" r="3.3"/>
<circle cx="1714.8" cy="341.5" r="3.3"/>
<circle cx="1714.8" cy="357.3" r="3.3"/>
<circle cx="1797.7" cy="292.7" r="3.3"/>
<circle cx="1831.3" cy="307.1" r="3.3"/>
<circle cx="1801.2" cy="316.5" r="3.3"/>
<circle cx="1805.1" cy="316.5" r="3.3"/>
<circle cx="1820.3" cy="321.6" r="3.3"/>
<circle cx="1795.8" cy="330.0" r="3.3"/>
<circle cx="1806.3" cy="327.0" r="3.3"/>
<circle cx="1810.5" cy="329.8" r="3.3"/>
<circle cx="1809.8" cy="338.7" r="3.3"/>
<circle cx="1807.0" cy="341.7" r="3.3"/>
<circle cx="1827.8" cy="343.3" r="3.3"/>
<circle cx="1830.8" cy="344.5" r="3.3"/>
</g>
<line x1="1033.1" y1="158.8" x2="1033.1" y2="415.6" class="ax"/>
<line x1="1029.1" y1="216.8" x2="1033.1" y2="216.8" class="tk"/>
<text x="1028.6" y="228.1" text-anchor="end" class="yt">4</text>
<line x1="1029.1" y1="281.3" x2="1033.1" y2="281.3" class="tk"/>
<text x="1028.6" y="292.6" text-anchor="end" class="yt">2</text>
<line x1="1029.1" y1="345.8" x2="1033.1" y2="345.8" class="tk"/>
<text x="1028.6" y="357.1" text-anchor="end" class="yt">0</text>
<line x1="1029.1" y1="410.3" x2="1033.1" y2="410.3" class="tk"/>
<text x="1028.6" y="421.6" text-anchor="end" class="yt">-2</text>
<rect x="1033.2" y="424.1" width="202.0" height="26.9" class="st"/>
<text x="1110.8" y="444.9" class="sl">HLADR</text>
<line x1="1088.9" y1="516.6" x2="1088.9" y2="553.9" class="w"/>
<line x1="1088.9" y1="615.8" x2="1088.9" y2="679.6" class="w"/>
<rect x="1054.3" y="553.9" width="69.2" height="61.9" fill="#F8766D" class="b"/>
<line x1="1054.3" y1="580.1" x2="1123.5" y2="580.1" class="m"/>
<line x1="1181.2" y1="550.4" x2="1181.2" y2="587.8" class="w"/>
<line x1="1181.2" y1="641.0" x2="1181.2" y2="668.4" class="w"/>
<rect x="1146.6" y="587.8" width="69.2" height="53.2" fill="#00BFC4" class="b"/>
<line x1="1146.6" y1="617.7" x2="1215.8" y2="617.7" class="m"/>
<g fill="#000">
<circle cx="1107.1" cy="515.9" r="3.3"/>
<circle cx="1090.7" cy="540.4" r="3.3"/>
<circle cx="1105.4" cy="544.6" r="3.3"/>
<circle cx="1100.8" cy="551.6" r="3.3"/>
<circle cx="1073.9" cy="563.7" r="3.3"/>
<circle cx="1095.9" cy="569.8" r="3.3"/>
<circle cx="1073.7" cy="578.0" r="3.3"/>
<circle cx="1087.9" cy="582.7" r="3.3"/>
<circle cx="1075.1" cy="598.3" r="3.3"/>
<circle cx="1107.1" cy="600.2" r="3.3"/>
<circle cx="1087.7" cy="621.2" r="3.3"/>
<circle cx="1092.6" cy="653.7" r="3.3"/>
<circle cx="1077.4" cy="657.9" r="3.3"/>
<circle cx="1075.5" cy="680.7" r="3.3"/>
<circle cx="1175.3" cy="550.4" r="3.3"/>
<circle cx="1190.0" cy="570.7" r="3.3"/>
<circle cx="1195.4" cy="576.8" r="3.3"/>
<circle cx="1181.1" cy="587.8" r="3.3"/>
<circle cx="1165.9" cy="599.9" r="3.3"/>
<circle cx="1167.1" cy="617.7" r="3.3"/>
<circle cx="1175.3" cy="617.7" r="3.3"/>
<circle cx="1174.8" cy="638.0" r="3.3"/>
<circle cx="1170.1" cy="642.0" r="3.3"/>
<circle cx="1192.8" cy="639.6" r="3.3"/>
<circle cx="1192.8" cy="642.7" r="3.3"/>
<circle cx="1199.8" cy="659.7" r="3.3"/>
<circle cx="1180.6" cy="667.9" r="3.3"/>
</g>
<rect x="1244.9" y="424.1" width="202.0" height="26.9" class="st"/>
<text x="1328.2" y="444.9" class="sl">B7H3</text>
<line x1="1300.1" y1="519.4" x2="1300.1" y2="538.0" class="w"/>
<line x1="1300.1" y1="631.7" x2="1300.1" y2="695.2" class="w"/>
<rect x="1265.5" y="538.0" width="69.2" height="93.7" fill="#F8766D" class="b"/>
<line x1="1265.5" y1="577.3" x2="1334.7" y2="577.3" class="m"/>
<line x1="1392.4" y1="514.2" x2="1392.4" y2="587.1" class="w"/>
<line x1="1392.4" y1="643.8" x2="1392.4" y2="671.9" class="w"/>
<rect x="1357.8" y="587.1" width="69.2" height="56.8" fill="#00BFC4" class="b"/>
<line x1="1357.8" y1="637.5" x2="1427.0" y2="637.5" class="m"/>
<g fill="#000">
<circle cx="1294.9" cy="519.6" r="3.3"/>
<circle cx="1289.7" cy="526.4" r="3.3"/>
<circle cx="1303.1" cy="527.8" r="3.3"/>
<circle cx="1286.0" cy="534.1" r="3.3"/>
<circle cx="1301.4" cy="550.0" r="3.3"/>
<circle cx="1289.0" cy="559.8" r="3.3"/>
<circle cx="1287.9" cy="562.1" r="3.3"/>
<circle cx="1287.4" cy="592.9" r="3.3"/>
<circle cx="1282.7" cy="601.1" r="3.3"/>
<circle cx="1315.9" cy="620.5" r="3.3"/>
<circle cx="1301.2" cy="636.4" r="3.3"/>
<circle cx="1303.5" cy="639.2" r="3.3"/>
<circle cx="1308.4" cy="668.8" r="3.3"/>
<circle cx="1295.4" cy="695.9" r="3.3"/>
<circle cx="1375.5" cy="514.7" r="3.3"/>
<circle cx="1405.1" cy="571.4" r="3.3"/>
<circle cx="1396.0" cy="587.1" r="3.3"/>
<circle cx="1410.0" cy="595.5" r="3.3"/>
<circle cx="1387.1" cy="612.3" r="3.3"/>
<circle cx="1379.7" cy="637.5" r="3.3"/>
<circle cx="1381.8" cy="637.5" r="3.3"/>
<circle cx="1395.3" cy="644.3" r="3.3"/>
<circle cx="1404.6" cy="644.3" r="3.3"/>
<circle cx="1384.1" cy="664.2" r="3.3"/>
<circle cx="1377.3" cy="673.5" r="3.3"/>
</g>
<rect x="1455.5" y="424.1" width="202.0" height="26.9" class="st"/>
<text x="1534.7" y="444.9" class="sl">CD66B</text>
<line x1="1511.1" y1="539.9" x2="1511.1" y2="559.8" class="w"/>
<line x1="1511.1" y1="642.7" x2="1511.1" y2="657.4" class="w"/>
<rect x="1476.5" y="559.8" width="69.2" height="82.9" fill="#F8766D" class="b"/>
<line x1="1476.5" y1="589.4" x2="1545.7" y2="589.4" class="m"/>
<line x1="1603.4" y1="586.2" x2="1603.4" y2="594.8" class="w"/>
<line x1="1603.4" y1="630.5" x2="1603.4" y2="646.2" class="w"/>
<rect x="1568.8" y="594.8" width="69.2" height="35.7" fill="#00BFC4" class="b"/>
<line x1="1568.8" y1="613.0" x2="1638.0" y2="613.0" class="m"/>
<g fill="#000">
<circle cx="1513.8" cy="539.9" r="3.3"/>
<circle cx="1497.9" cy="551.6" r="3.3"/>
<circle cx="1524.7" cy="550.0" r="3.3"/>
<circle cx="1507.2" cy="556.3" r="3.3"/>
<circle cx="1507.9" cy="557.4" r="3.3"/>
<circle cx="1513.1" cy="569.8" r="3.3"/>
<circle cx="1525.9" cy="573.8" r="3.3"/>
<circle cx="1527.8" cy="576.1" r="3.3"/>
<circle cx="1504.9" cy="604.1" r="3.3"/>
<circle cx="1511.9" cy="615.8" r="3.3"/>
<circle cx="1506.1" cy="636.1" r="3.3"/>
<circle cx="1497.9" cy="648.5" r="3.3"/>
<circle cx="1509.6" cy="648.5" r="3.3"/>
<circle cx="1514.9" cy="646.2" r="3.3"/>
<circle cx="1527.8" cy="658.3" r="3.3"/>
<circle cx="1597.6" cy="585.5" r="3.3"/>
<circle cx="1594.3" cy="592.9" r="3.3"/>
<circle cx="1601.8" cy="596.4" r="3.3"/>
<circle cx="1612.3" cy="593.2" r="3.3"/>
<circle cx="1612.8" cy="595.3" r="3.3"/>
<circle cx="1608.8" cy="609.5" r="3.3"/>
<circle cx="1608.3" cy="613.5" r="3.3"/>
<circle cx="1599.0" cy="620.5" r="3.3"/>
<circle cx="1587.3" cy="628.2" r="3.3"/>
<circle cx="1593.6" cy="631.5" r="3.3"/>
<circle cx="1608.1" cy="635.7" r="3.3"/>
<circle cx="1589.0" cy="642.0" r="3.3"/>
<circle cx="1614.9" cy="647.3" r="3.3"/>
</g>
<rect x="1667.3" y="424.1" width="202.0" height="26.9" class="st"/>
<text x="1747.5" y="444.9" class="sl">CD163</text>
<line x1="1721.9" y1="462.8" x2="1721.9" y2="540.6" class="w"/>
<line x1="1721.9" y1="624.5" x2="1721.9" y2="646.2" class="w"/>
<rect x="1687.3" y="540.6" width="69.2" height="83.8" fill="#F8766D" class="b"/>
<line x1="1687.3" y1="583.8" x2="1756.5" y2="583.8" class="m"/>
<line x1="1814.2" y1="592.5" x2="1814.2" y2="604.6" class="w"/>
<line x1="1814.2" y1="633.8" x2="1814.2" y2="636.8" class="w"/>
<rect x="1779.6" y="604.6" width="69.2" height="29.2" fill="#00BFC4" class="b"/>
<line x1="1779.6" y1="618.2" x2="1848.8" y2="618.2" class="m"/>
<g fill="#000">
<circle cx="1714.1" cy="462.8" r="3.3"/>
<circle cx="1722.9" cy="517.7" r="3.3"/>
<circle cx="1706.4" cy="529.9" r="3.3"/>
<circle cx="1740.4" cy="535.7" r="3.3"/>
<circle cx="1716.4" cy="556.3" r="3.3"/>
<circle cx="1718.7" cy="559.3" r="3.3"/>
<circle cx="1728.5" cy="569.8" r="3.3"/>
<circle cx="1714.1" cy="597.1" r="3.3"/>
<circle cx="1736.9" cy="607.2" r="3.3"/>
<circle cx="1718.7" cy="622.1" r="3.3"/>
<circle cx="1724.1" cy="626.8" r="3.3"/>
<circle cx="1705.4" cy="639.2" r="3.3"/>
<circle cx="1713.6" cy="642.7" r="3.3"/>
<circle cx="1725.7" cy="647.3" r="3.3"/>
<circle cx="1826.9" cy="550.9" r="3.3"/>
<circle cx="1821.0" cy="558.1" r="3.3"/>
<circle cx="1800.5" cy="592.0" r="3.3"/>
<circle cx="1809.1" cy="604.8" r="3.3"/>
<circle cx="1812.1" cy="609.5" r="3.3"/>
<circle cx="1825.0" cy="609.5" r="3.3"/>
<circle cx="1806.3" cy="618.6" r="3.3"/>
<circle cx="1811.7" cy="631.0" r="3.3"/>
<circle cx="1798.1" cy="634.5" r="3.3"/>
<circle cx="1813.8" cy="636.8" r="3.3"/>
<circle cx="1820.8" cy="636.8" r="3.3"/>
<circle cx="1829.2" cy="687.0" r="3.3"/>
</g>
<line x1="1033.1" y1="451.0" x2="1033.1" y2="707.8" class="ax"/>
<line x1="1029.1" y1="509.0" x2="1033.1" y2="509.0" class="tk"/>
<text x="1028.6" y="520.3" text-anchor="end" class="yt">4</text>
<line x1="1029.1" y1="573.5" x2="1033.1" y2="573.5" class="tk"/>
<text x="1028.6" y="584.8" text-anchor="end" class="yt">2</text>
<line x1="1029.1" y1="638.0" x2="1033.1" y2="638.0" class="tk"/>
<text x="1028.6" y="649.3" text-anchor="end" class="yt">0</text>
<line x1="1029.1" y1="702.5" x2="1033.1" y2="702.5" class="tk"/>
<text x="1028.6" y="713.8" text-anchor="end" class="yt">-2</text>
<rect x="1033.2" y="716.3" width="202.0" height="26.9" class="st"/>
<text x="1116.9" y="737.1" class="sl">CD44</text>
<line x1="1088.9" y1="782.5" x2="1088.9" y2="831.8" class="w"/>
<line x1="1088.9" y1="925.7" x2="1088.9" y2="986.4" class="w"/>
<rect x="1054.3" y="831.8" width="69.2" height="93.9" fill="#F8766D" class="b"/>
<line x1="1054.3" y1="861.0" x2="1123.5" y2="861.0" class="m"/>
<line x1="1181.2" y1="839.3" x2="1181.2" y2="894.6" class="w"/>
<line x1="1181.2" y1="941.5" x2="1181.2" y2="974.0" class="w"/>
<rect x="1146.6" y="894.6" width="69.2" height="46.9" fill="#00BFC4" class="b"/>
<line x1="1146.6" y1="915.9" x2="1215.8" y2="915.9" class="m"/>
<g fill="#000">
<circle cx="1094.9" cy="782.5" r="3.3"/>
<circle cx="1071.3" cy="812.4" r="3.3"/>
<circle cx="1080.7" cy="820.6" r="3.3"/>
<circle cx="1089.1" cy="831.5" r="3.3"/>
<circle cx="1095.4" cy="834.6" r="3.3"/>
<circle cx="1098.2" cy="836.5" r="3.3"/>
<circle cx="1107.8" cy="848.1" r="3.3"/>
<circle cx="1070.4" cy="873.6" r="3.3"/>
<circle cx="1094.9" cy="894.1" r="3.3"/>
<circle cx="1107.1" cy="922.2" r="3.3"/>
<circle cx="1091.9" cy="928.0" r="3.3"/>
<circle cx="1076.0" cy="950.9" r="3.3"/>
<circle cx="1092.6" cy="953.7" r="3.3"/>
<circle cx="1090.0" cy="986.4" r="3.3"/>
<circle cx="1190.0" cy="839.3" r="3.3"/>
<circle cx="1184.8" cy="848.1" r="3.3"/>
<circle cx="1191.1" cy="854.9" r="3.3"/>
<circle cx="1183.0" cy="895.3" r="3.3"/>
<circle cx="1176.0" cy="902.8" r="3.3"/>
<circle cx="1169.0" cy="914.0" r="3.3"/>
<circle cx="1170.1" cy="916.3" r="3.3"/>
<circle cx="1163.6" cy="927.3" r="3.3"/>
<circle cx="1170.6" cy="932.2" r="3.3"/>
<circle cx="1180.6" cy="941.5" r="3.3"/>
<circle cx="1188.1" cy="962.3" r="3.3"/>
<circle cx="1196.5" cy="963.0" r="3.3"/>
<circle cx="1197.7" cy="974.7" r="3.3"/>
</g>
<rect x="1244.9" y="716.3" width="202.0" height="26.9" class="st"/>
<text x="1328.6" y="737.1" class="sl">CD45</text>
<line x1="1300.1" y1="797.2" x2="1300.1" y2="834.6" class="w"/>
<line x1="1300.1" y1="912.8" x2="1300.1" y2="967.7" class="w"/>
<rect x="1265.5" y="834.6" width="69.2" height="78.2" fill="#F8766D" class="b"/>
<line x1="1265.5" y1="880.1" x2="1334.7" y2="880.1" class="m"/>
<line x1="1392.4" y1="849.3" x2="1392.4" y2="884.1" class="w"/>
<line x1="1392.4" y1="926.8" x2="1392.4" y2="962.6" class="w"/>
<rect x="1357.8" y="884.1" width="69.2" height="42.7" fill="#00BFC4" class="b"/>
<line x1="1357.8" y1="912.1" x2="1427.0" y2="912.1" class="m"/>
<g fill="#000">
<circle cx="1283.2" cy="797.2" r="3.3"/>
<circle cx="1286.0" cy="803.8" r="3.3"/>
<circle cx="1304.7" cy="822.2" r="3.3"/>
<circle cx="1283.2" cy="833.4" r="3.3"/>
<circle cx="1302.4" cy="842.8" r="3.3"/>
<circle cx="1285.1" cy="854.9" r="3.3"/>
<circle cx="1313.1" cy="871.5" r="3.3"/>
<circle cx="1287.2" cy="889.5" r="3.3"/>
<circle cx="1296.5" cy="896.5" r="3.3"/>
<circle cx="1304.7" cy="907.5" r="3.3"/>
<circle cx="1282.7" cy="915.9" r="3.3"/>
<circle cx="1295.4" cy="929.9" r="3.3"/>
<circle cx="1297.9" cy="948.3" r="3.3"/>
<circle cx="1297.9" cy="967.7" r="3.3"/>
<circle cx="1411.0" cy="848.1" r="3.3"/>
<circle cx="1380.6" cy="876.6" r="3.3"/>
<circle cx="1377.8" cy="883.6" r="3.3"/>
<circle cx="1398.8" cy="882.9" r="3.3"/>
<circle cx="1404.6" cy="891.8" r="3.3"/>
<circle cx="1395.3" cy="911.0" r="3.3"/>
<circle cx="1410.0" cy="912.1" r="3.3"/>
<circle cx="1398.8" cy="918.2" r="3.3"/>
<circle cx="1379.4" cy="927.5" r="3.3"/>
<circle cx="1389.9" cy="926.8" r="3.3"/>
<circle cx="1384.8" cy="939.0" r="3.3"/>
<circle cx="1377.3" cy="960.7" r="3.3"/>
<circle cx="1393.4" cy="963.0" r="3.3"/>
</g>
<rect x="1455.5" y="716.3" width="202.0" height="26.9" class="st"/>
<text x="1535.3" y="737.1" class="sl">OX40L</text>
<line x1="1511.1" y1="838.8" x2="1511.1" y2="873.8" class="w"/>
<line x1="1511.1" y1="941.3" x2="1511.1" y2="959.1" class="w"/>
<rect x="1476.5" y="873.8" width="69.2" height="67.5" fill="#F8766D" class="b"/>
<line x1="1476.5" y1="901.8" x2="1545.7" y2="901.8" class="m"/>
<line x1="1603.4" y1="880.1" x2="1603.4" y2="891.8" class="w"/>
<line x1="1603.4" y1="931.0" x2="1603.4" y2="951.4" class="w"/>
<rect x="1568.8" y="891.8" width="69.2" height="39.2" fill="#00BFC4" class="b"/>
<line x1="1568.8" y1="907.0" x2="1638.0" y2="907.0" class="m"/>
<g fill="#000">
<circle cx="1510.0" cy="838.8" r="3.3"/>
<circle cx="1496.2" cy="866.8" r="3.3"/>
<circle cx="1497.9" cy="870.8" r="3.3"/>
<circle cx="1512.6" cy="868.9" r="3.3"/>
<circle cx="1512.6" cy="882.5" r="3.3"/>
<circle cx="1527.1" cy="883.6" r="3.3"/>
<circle cx="1511.4" cy="901.8" r="3.3"/>
<circle cx="1513.8" cy="902.8" r="3.3"/>
<circle cx="1496.7" cy="914.0" r="3.3"/>
<circle cx="1504.9" cy="922.2" r="3.3"/>
<circle cx="1524.7" cy="949.7" r="3.3"/>
<circle cx="1499.0" cy="959.5" r="3.3"/>
<circle cx="1506.5" cy="958.8" r="3.3"/>
<circle cx="1615.4" cy="880.6" r="3.3"/>
<circle cx="1589.0" cy="886.7" r="3.3"/>
<circle cx="1618.9" cy="890.6" r="3.3"/>
<circle cx="1621.7" cy="891.8" r="3.3"/>
<circle cx="1590.1" cy="905.8" r="3.3"/>
<circle cx="1596.4" cy="908.2" r="3.3"/>
<circle cx="1613.0" cy="902.8" r="3.3"/>
<circle cx="1613.0" cy="907.5" r="3.3"/>
<circle cx="1597.6" cy="921.5" r="3.3"/>
<circle cx="1585.0" cy="931.5" r="3.3"/>
<circle cx="1595.3" cy="933.4" r="3.3"/>
<circle cx="1608.1" cy="937.8" r="3.3"/>
<circle cx="1589.7" cy="952.5" r="3.3"/>
</g>
<rect x="1667.3" y="716.3" width="202.0" height="26.9" class="st"/>
<text x="1747.1" y="737.1" class="sl">FoXP3</text>
<line x1="1721.9" y1="804.2" x2="1721.9" y2="847.0" class="w"/>
<line x1="1721.9" y1="913.5" x2="1721.9" y2="952.5" class="w"/>
<rect x="1687.3" y="847.0" width="69.2" height="66.6" fill="#F8766D" class="b"/>
<line x1="1687.3" y1="884.1" x2="1756.5" y2="884.1" class="m"/>
<line x1="1814.2" y1="856.1" x2="1814.2" y2="886.0" class="w"/>
<line x1="1814.2" y1="927.5" x2="1814.2" y2="935.0" class="w"/>
<rect x="1779.6" y="886.0" width="69.2" height="41.6" fill="#00BFC4" class="b"/>
<line x1="1779.6" y1="907.0" x2="1848.8" y2="907.0" class="m"/>
<g fill="#000">
<circle cx="1718.7" cy="804.2" r="3.3"/>
<circle cx="1721.1" cy="829.2" r="3.3"/>
<circle cx="1716.4" cy="836.5" r="3.3"/>
<circle cx="1721.8" cy="847.0" r="3.3"/>
<circle cx="1718.7" cy="848.6" r="3.3"/>
<circle cx="1731.6" cy="859.8" r="3.3"/>
<circle cx="1737.9" cy="879.7" r="3.3"/>
<circle cx="1737.9" cy="887.6" r="3.3"/>
<circle cx="1707.5" cy="906.5" r="3.3"/>
<circle cx="1720.6" cy="905.1" r="3.3"/>
<circle cx="1707.1" cy="916.8" r="3.3"/>
<circle cx="1705.4" cy="929.9" r="3.3"/>
<circle cx="1707.5" cy="933.4" r="3.3"/>
<circle cx="1719.4" cy="952.5" r="3.3"/>
<circle cx="1802.8" cy="856.8" r="3.3"/>
<circle cx="1805.1" cy="871.5" r="3.3"/>
<circle cx="1806.8" cy="881.8" r="3.3"/>
<circle cx="1811.7" cy="886.0" r="3.3"/>
<circle cx="1823.8" cy="893.0" r="3.3"/>
<circle cx="1808.6" cy="904.6" r="3.3"/>
<circle cx="1818.7" cy="907.7" r="3.3"/>
<circle cx="1815.6" cy="914.0" r="3.3"/>
<circle cx="1797.0" cy="921.0" r="3.3"/>
<circle cx="1821.5" cy="927.5" r="3.3"/>
<circle cx="1829.7" cy="931.5" r="3.3"/>
<circle cx="1825.0" cy="935.5" r="3.3"/>
</g>
<line x1="1033.1" y1="743.2" x2="1033.1" y2="1001.0" class="ax"/>
<line x1="1029.1" y1="801.2" x2="1033.1" y2="801.2" class="tk"/>
<text x="1028.6" y="812.5" text-anchor="end" class="yt">4</text>
<line x1="1029.1" y1="865.7" x2="1033.1" y2="865.7" class="tk"/>
<text x="1028.6" y="877.0" text-anchor="end" class="yt">2</text>
<line x1="1029.1" y1="930.2" x2="1033.1" y2="930.2" class="tk"/>
<text x="1028.6" y="941.5" text-anchor="end" class="yt">0</text>
<line x1="1029.1" y1="994.7" x2="1033.1" y2="994.7" class="tk"/>
<text x="1028.6" y="1006.0" text-anchor="end" class="yt">-2</text>
<line x1="1032.2" y1="999" x2="1235.2" y2="999" class="ax"/>
<line x1="1088.9" y1="999" x2="1088.9" y2="1003.5" class="tk"/>
<text transform="translate(1082.4,1005.0) rotate(-45)" text-anchor="end" class="xt" dy="0.7em">Decline</text>
<line x1="1181.2" y1="999" x2="1181.2" y2="1003.5" class="tk"/>
<text transform="translate(1181.6,1003.5) rotate(-45)" text-anchor="end" class="xt" dy="0.7em">No decline</text>
<line x1="1243.9" y1="999" x2="1446.9" y2="999" class="ax"/>
<line x1="1300.1" y1="999" x2="1300.1" y2="1003.5" class="tk"/>
<text transform="translate(1293.6,1005.0) rotate(-45)" text-anchor="end" class="xt" dy="0.7em">Decline</text>
<line x1="1392.4" y1="999" x2="1392.4" y2="1003.5" class="tk"/>
<text transform="translate(1392.8,1003.5) rotate(-45)" text-anchor="end" class="xt" dy="0.7em">No decline</text>
<line x1="1454.5" y1="999" x2="1657.5" y2="999" class="ax"/>
<line x1="1511.1" y1="999" x2="1511.1" y2="1003.5" class="tk"/>
<text transform="translate(1504.6,1005.0) rotate(-45)" text-anchor="end" class="xt" dy="0.7em">Decline</text>
<line x1="1603.4" y1="999" x2="1603.4" y2="1003.5" class="tk"/>
<text transform="translate(1603.8,1003.5) rotate(-45)" text-anchor="end" class="xt" dy="0.7em">No decline</text>
<line x1="1666.3" y1="999" x2="1869.3" y2="999" class="ax"/>
<line x1="1721.9" y1="999" x2="1721.9" y2="1003.5" class="tk"/>
<text transform="translate(1715.4,1005.0) rotate(-45)" text-anchor="end" class="xt" dy="0.7em">Decline</text>
<line x1="1814.2" y1="999" x2="1814.2" y2="1003.5" class="tk"/>
<text transform="translate(1814.6,1003.5) rotate(-45)" text-anchor="end" class="xt" dy="0.7em">No decline</text>
<text transform="translate(22,566.7) rotate(-90)" text-anchor="middle" style="font-size:20.7px">Difference in mean log2 marker level</text>
<text transform="translate(989.5,566.7) rotate(-90)" text-anchor="middle" style="font-size:20.7px">Difference in mean log2 marker level</text>
<text x="0.5" y="17.6" style="font-size:24px;font-weight:bold">A</text>
<text x="968" y="17.6" style="font-size:24px;font-weight:bold">B</text>
<text x="74.2" y="36.5" style="font-size:32.3px">Change</text>
<text x="201.5" y="36.5" style="font-size:32.3px">in</text>
<text x="237.8" y="36.5" style="font-size:32.3px">protein</text>
<text x="348.7" y="36.5" style="font-size:32.3px">expression</text>
<text x="520.6" y="36.5" style="font-size:32.3px">by</text>
<text x="564.5" y="36.5" style="font-size:32.3px">PSA</text>
<text x="655.0" y="36.5" style="font-size:32.3px">at</text>
<text x="693.2" y="36.5" style="font-size:32.3px">12</text>
<text x="738.7" y="36.5" style="font-size:32.3px">months</text>
<text x="632" y="43.8" style="font-size:22px">0</text>
<text x="1037.6" y="36.5" style="font-size:32.3px">Change</text>
<text x="1165.2" y="36.5" style="font-size:32.3px">in</text>
<text x="1200.5" y="36.5" style="font-size:32.3px">protein</text>
<text x="1312.6" y="36.5" style="font-size:32.3px">expression</text>
<text x="1483.5" y="36.5" style="font-size:32.3px">by</text>
<text x="1529.2" y="36.5" style="font-size:32.3px">Gleason</text>
<text x="1662.9" y="36.5" style="font-size:32.3px">grade</text>
<text x="1758.3" y="36.5" style="font-size:32.3px">change</text>
<g style="font-size:20.8px">
<text x="327" y="101.8">Strata</text>
<line x1="402.8" y1="85.2" x2="402.8" y2="105.7" class="w"/>
<rect x="393.5" y="90.4" width="18.6" height="11.3" fill="#EE8F87" class="b"/>
<line x1="393.6" y1="96" x2="412.0" y2="96" class="m" style="stroke-width:2.2"/>
<circle cx="402.8" cy="96" r="2.6" fill="#000"/>
<text x="417.4" y="101.8">Responder</text>
<line x1="542.0" y1="85.2" x2="542.0" y2="105.7" class="w"/>
<rect x="533.1" y="90.4" width="17.9" height="11.3" fill="#33B5B8" class="b"/>
<line x1="533.2" y1="96" x2="550.9" y2="96" class="m" style="stroke-width:2.2"/>
<circle cx="542.0" cy="96" r="2.6" fill="#000"/>
<text x="558.5" y="101.8">Non-responder</text>
<text x="1316.8" y="102.3">Strata</text>
<line x1="1397.2" y1="85.2" x2="1397.2" y2="105.7" class="w"/>
<rect x="1388.1" y="90.4" width="18.2" height="11.3" fill="#EE8F87" class="b"/>
<line x1="1388.2" y1="96" x2="1406.2" y2="96" class="m" style="stroke-width:2.2"/>
<circle cx="1397.2" cy="96" r="2.6" fill="#000"/>
<text x="1412.5" y="102.3">Decline</text>
<line x1="1502.9" y1="85.2" x2="1502.9" y2="105.7" class="w"/>
<rect x="1494.1" y="90.4" width="17.6" height="11.3" fill="#33B5B8" class="b"/>
<line x1="1494.2" y1="96" x2="1511.6" y2="96" class="m" style="stroke-width:2.2"/>
<circle cx="1502.9" cy="96" r="2.6" fill="#000"/>
<text x="1520" y="102.3">No decline</text>
</g>
</svg></body></html>
